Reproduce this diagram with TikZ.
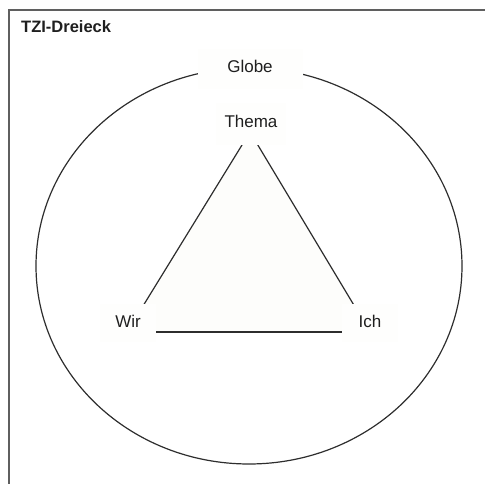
\documentclass[tikz,border=0pt]{standalone}
\usepackage{fontspec}
\setmainfont{Liberation Sans}
\definecolor{framecol}{RGB}{95,95,95}
\definecolor{linecol}{RGB}{45,45,45}
\definecolor{boxfill}{RGB}{254,254,253}
\definecolor{trifillcol}{RGB}{253,253,251}
\begin{document}
\begin{tikzpicture}[x=1pt,y=-1pt,
  frame/.style={draw=framecol,line width=1.1pt},
  ring/.style={draw=linecol,line width=1.2pt},
  edge/.style={draw=linecol,line width=1.2pt},
  label/.style={fill=boxfill,font=\fontsize{17}{20}\selectfont,text=black!88,
    text height=12pt,text depth=4pt,inner sep=0pt},
  titletext/.style={font=\fontsize{16.5}{19}\selectfont\bfseries,text=black!88,inner sep=0pt}]
\useasboundingbox (0,0) rectangle (485,484);
\draw[frame] (9,484) -- (9,10) -- (485,10);
\node[titletext,anchor=base west] (title) at (21,33) {TZI-Dreieck};
\draw[ring] (249,266) ellipse [x radius=213, y radius=198];
\coordinate (A) at (250,132);
\coordinate (B) at (127,332);
\coordinate (C) at (370,332);
\fill[trifillcol] (A) -- (B) -- (C) -- cycle;
\draw[edge] (A) -- (B);
\draw[edge] (A) -- (C);
\draw[edge] (B) -- (C);
\node[label,minimum width=105pt,minimum height=40pt] (globe) at (250,69) {Globe};
\node[label,minimum width=70pt,minimum height=42pt] (thema) at (251,124) {Thema};
\node[label,minimum width=56pt,minimum height=38pt] (wir) at (128,323) {Wir};
\node[label,minimum width=56pt,minimum height=38pt] (ich) at (370,323) {Ich};
\end{tikzpicture}
\end{document}
